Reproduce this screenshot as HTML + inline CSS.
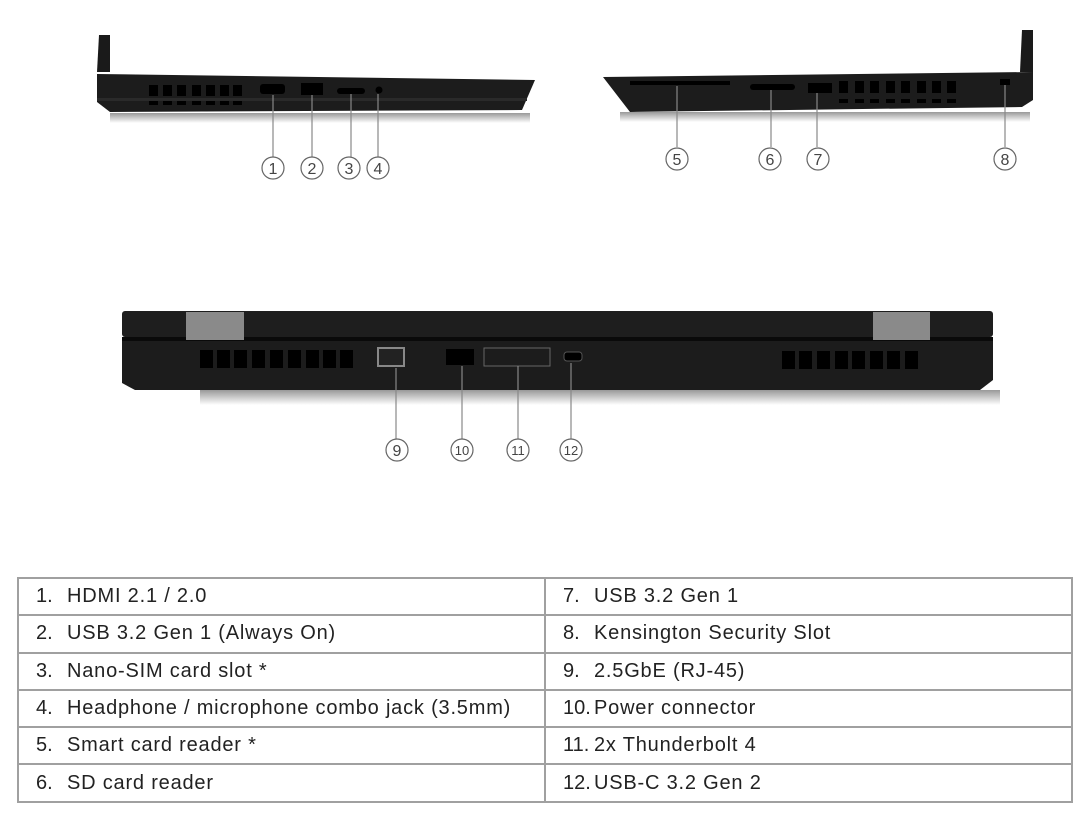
<!DOCTYPE html>
<html><head><meta charset="utf-8"><style>
body{margin:0;background:#fff;width:1080px;height:816px;overflow:hidden;font-family:"Liberation Sans",sans-serif}
svg{position:absolute;left:0;top:0}
table{position:absolute;left:17px;top:577px;border-collapse:collapse;width:1056px}
td{border:2px solid #a0a0a0;height:35.3px;padding:0 0 0 17px;font-size:20px;color:#222;width:50%;letter-spacing:0.8px}
td span{display:inline-block;width:31px;letter-spacing:0}
</style></head><body>
<svg width="1080" height="816" viewBox="0 0 1080 816">
<defs><linearGradient id="sh" x1="0" y1="0" x2="0" y2="1"><stop offset="0" stop-color="#999"/><stop offset="1" stop-color="#fff"/></linearGradient></defs>
<rect x="110" y="113" width="420" height="10" fill="url(#sh)"/>
<polygon points="97,72 110,72 110,35 99,35" fill="#1a1a1a"/>
<polygon points="97,74 535,80 522,110 110,112 97,102" fill="#1c1c1c"/>
<rect x="97" y="98" width="430" height="3" fill="#2a2a2a"/>
<g fill="#000">
<rect x="149" y="85" width="9" height="11"/><rect x="163" y="85" width="9" height="11"/><rect x="177" y="85" width="9" height="11"/><rect x="192" y="85" width="9" height="11"/><rect x="206" y="85" width="9" height="11"/><rect x="220" y="85" width="9" height="11"/><rect x="233" y="85" width="9" height="11"/>
<rect x="149" y="101" width="9" height="4"/><rect x="163" y="101" width="9" height="4"/><rect x="177" y="101" width="9" height="4"/><rect x="192" y="101" width="9" height="4"/><rect x="206" y="101" width="9" height="4"/><rect x="220" y="101" width="9" height="4"/><rect x="233" y="101" width="9" height="4"/>
<rect x="260" y="84" width="25" height="10" rx="3"/><rect x="301" y="83" width="22" height="12"/><rect x="337" y="88" width="28" height="6" rx="3"/><circle cx="379" cy="90" r="3.5"/>
</g>
<rect x="620" y="112" width="410" height="10" fill="url(#sh)"/>
<polygon points="1020,72 1033,72 1033,30 1022,30" fill="#1a1a1a"/>
<polygon points="603,77 1033,72 1033,100 1022,107 630,112" fill="#1c1c1c"/>
<g fill="#000">
<rect x="630" y="81" width="100" height="4"/><rect x="750" y="84" width="45" height="6" rx="3"/><rect x="808" y="83" width="24" height="10"/>
<rect x="839" y="81" width="9" height="12"/><rect x="855" y="81" width="9" height="12"/><rect x="870" y="81" width="9" height="12"/><rect x="886" y="81" width="9" height="12"/><rect x="901" y="81" width="9" height="12"/><rect x="917" y="81" width="9" height="12"/><rect x="932" y="81" width="9" height="12"/><rect x="947" y="81" width="9" height="12"/>
<rect x="839" y="99" width="9" height="4"/><rect x="855" y="99" width="9" height="4"/><rect x="870" y="99" width="9" height="4"/><rect x="886" y="99" width="9" height="4"/><rect x="901" y="99" width="9" height="4"/><rect x="917" y="99" width="9" height="4"/><rect x="932" y="99" width="9" height="4"/><rect x="947" y="99" width="9" height="4"/>
<rect x="1000" y="79" width="10" height="6"/>
</g>
<rect x="200" y="390" width="800" height="15" fill="url(#sh)"/>
<rect x="122" y="311" width="871" height="26" rx="3" fill="#1e1e1e"/>
<rect x="122" y="337" width="871" height="4" fill="#0a0a0a"/>
<polygon points="122,341 993,341 993,380 980,390 135,390 122,383" fill="#1c1c1c"/>
<rect x="186" y="312" width="58" height="28" fill="#8a8a8a"/>
<rect x="873" y="312" width="57" height="28" fill="#8a8a8a"/>
<g fill="#000">
<rect x="200" y="350" width="13" height="18"/><rect x="217" y="350" width="13" height="18"/><rect x="234" y="350" width="13" height="18"/><rect x="252" y="350" width="13" height="18"/><rect x="270" y="350" width="13" height="18"/><rect x="288" y="350" width="13" height="18"/><rect x="306" y="350" width="13" height="18"/><rect x="323" y="350" width="13" height="18"/><rect x="340" y="350" width="13" height="18"/>
<rect x="782" y="351" width="13" height="18"/><rect x="799" y="351" width="13" height="18"/><rect x="817" y="351" width="13" height="18"/><rect x="835" y="351" width="13" height="18"/><rect x="852" y="351" width="13" height="18"/><rect x="870" y="351" width="13" height="18"/><rect x="887" y="351" width="13" height="18"/><rect x="905" y="351" width="13" height="18"/>
<rect x="446" y="349" width="28" height="16"/><rect x="564" y="352" width="18" height="9" rx="3" stroke="#555"/>
</g>
<rect x="378" y="348" width="26" height="18" fill="#222" stroke="#888" stroke-width="2"/>
<rect x="484" y="348" width="66" height="18" fill="none" stroke="#666" stroke-width="1"/>
<g stroke="#888" stroke-width="1.2">
<line x1="273" y1="95" x2="273" y2="157"/><line x1="312" y1="95" x2="312" y2="157"/><line x1="351" y1="94" x2="351" y2="157"/><line x1="378" y1="94" x2="378" y2="157"/>
<line x1="677" y1="86" x2="677" y2="147"/><line x1="771" y1="90" x2="771" y2="147"/><line x1="817" y1="93" x2="817" y2="147"/><line x1="1005" y1="85" x2="1005" y2="147"/>
<line x1="396" y1="368" x2="396" y2="439"/><line x1="462" y1="366" x2="462" y2="439"/><line x1="518" y1="366" x2="518" y2="439"/><line x1="571" y1="363" x2="571" y2="439"/>
</g>
<g fill="#fff" stroke="#666" stroke-width="1.2">
<circle cx="273" cy="168" r="11"/><circle cx="312" cy="168" r="11"/><circle cx="349" cy="168" r="11"/><circle cx="378" cy="168" r="11"/>
<circle cx="677" cy="159" r="11"/><circle cx="770" cy="159" r="11"/><circle cx="818" cy="159" r="11"/><circle cx="1005" cy="159" r="11"/>
<circle cx="397" cy="450" r="11"/><circle cx="462" cy="450" r="11"/><circle cx="518" cy="450" r="11"/><circle cx="571" cy="450" r="11"/>
</g>
<g font-family="Liberation Sans,sans-serif" font-size="16" fill="#444" text-anchor="middle">
<text x="273" y="174">1</text><text x="312" y="174">2</text><text x="349" y="174">3</text><text x="378" y="174">4</text>
<text x="677" y="165">5</text><text x="770" y="165">6</text><text x="818" y="165">7</text><text x="1005" y="165">8</text>
<text x="397" y="456">9</text><text x="462" y="455" font-size="13">10</text><text x="518" y="455" font-size="13">11</text><text x="571" y="455" font-size="13">12</text>
</g>
</svg>
<table>
<tr><td><span>1.</span>HDMI 2.1 / 2.0</td><td><span>7.</span>USB 3.2 Gen 1</td></tr>
<tr><td><span>2.</span>USB 3.2 Gen 1 (Always On)</td><td><span>8.</span>Kensington Security Slot</td></tr>
<tr><td><span>3.</span>Nano-SIM card slot *</td><td><span>9.</span>2.5GbE (RJ-45)</td></tr>
<tr><td><span>4.</span>Headphone / microphone combo jack (3.5mm)</td><td><span>10.</span>Power connector</td></tr>
<tr><td><span>5.</span>Smart card reader *</td><td><span>11.</span>2x Thunderbolt 4</td></tr>
<tr><td><span>6.</span>SD card reader</td><td><span>12.</span>USB-C 3.2 Gen 2</td></tr>
</table>
</body></html>
